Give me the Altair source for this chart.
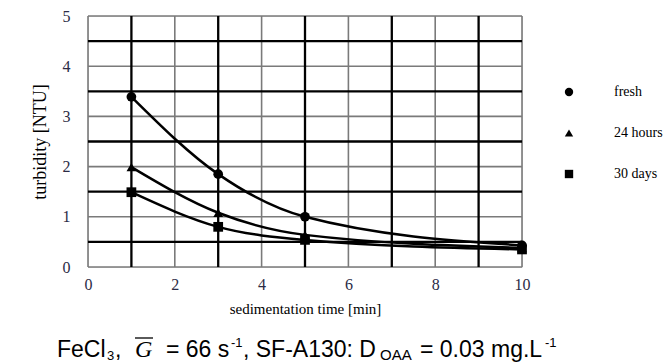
import altair as alt
import pandas as pd

# ---- data ----
time_min = [1, 3, 5, 10]
fresh = [3.39, 1.85, 1.0, 0.43]
hours_24 = [1.99, 1.08, 0.64, 0.38]
days_30 = [1.49, 0.80, 0.54, 0.35]
series_names = ["fresh", "24 hours", "30 days"]
series_shapes = ["circle", "triangle-up", "square"]
x_ticks = [0, 2, 4, 6, 8, 10]
y_ticks = [0, 1, 2, 3, 4, 5]
grid_x_light = [0, 2, 4, 6, 8, 10]
grid_x_dark = [1, 3, 5, 7, 9]
grid_y_light = [0, 1, 2, 3, 4, 5]
grid_y_dark = [0.5, 1.5, 2.5, 3.5, 4.5]

rows = []
for name, vals in zip(series_names, [fresh, hours_24, days_30]):
    for t, v in zip(time_min, vals):
        rows.append({"time": t, "turbidity": v, "series": name})
df = pd.DataFrame(rows)

W, H = 434, 251
xs = alt.Scale(domain=[0, 10], nice=False, zero=False)
ys = alt.Scale(domain=[0, 5], nice=False)
SERIF = "Liberation Serif"
SANS = "Liberation Sans"
LABEL_COLOR = "#2b2b45"

x_axis = alt.Axis(values=x_ticks, title="sedimentation time  [min]", grid=False,
                  domain=False, ticks=False, labelPadding=9, titlePadding=9,
                  labelFont=SERIF, labelFontSize=16, titleFont=SERIF,
                  titleFontSize=15, titleFontWeight="normal", labelColor=LABEL_COLOR,
                  titleColor="black", format="d", labelFlush=False)
y_axis = alt.Axis(values=y_ticks, title="turbidity  [NTU]", grid=False,
                  domain=False, ticks=False, labelPadding=18, titlePadding=13,
                  labelFont=SERIF, labelFontSize=16, titleFont=SERIF,
                  titleFontSize=18, titleFontWeight="normal", labelColor=LABEL_COLOR,
                  titleColor="black", format="d")


def vgrid(vals, color, width):
    return alt.Chart(pd.DataFrame({"time": vals})).mark_rule(
        color=color, strokeWidth=width).encode(x=alt.X("time:Q", scale=xs, axis=x_axis))


def hgrid(vals, color, width):
    return alt.Chart(pd.DataFrame({"turbidity": vals})).mark_rule(
        color=color, strokeWidth=width).encode(y=alt.Y("turbidity:Q", scale=ys, axis=y_axis))


grid = (vgrid(grid_x_light, "#7a7a7a", 1.6) + hgrid(grid_y_light, "#7a7a7a", 1.6)
        + vgrid(grid_x_dark, "black", 2.3) + hgrid(grid_y_dark, "black", 2.3))

base = alt.Chart(df)
lines = base.mark_line(color="black", strokeWidth=2.5, interpolate="monotone").encode(
    x=alt.X("time:Q", scale=xs, axis=x_axis),
    y=alt.Y("turbidity:Q", scale=ys, axis=y_axis),
    detail="series:N",
)
points = base.mark_point(filled=True, color="black", size=95, opacity=1).encode(
    x=alt.X("time:Q", scale=xs, axis=x_axis),
    y=alt.Y("turbidity:Q", scale=ys, axis=y_axis),
    shape=alt.Shape("series:N",
                    scale=alt.Scale(domain=series_names, range=series_shapes),
                    legend=alt.Legend(title=None, orient="none", legendX=474, legendY=69,
                                      symbolSize=70, symbolFillColor="black",
                                      symbolStrokeColor="black", symbolStrokeWidth=0,
                                      labelFont=SERIF, labelFontSize=14, labelColor="black",
                                      labelOffset=38, rowPadding=27, padding=0)),
)


def seg(text, x, y, size, font=SANS, style="normal"):
    return alt.Chart(pd.DataFrame({"t": [text]})).mark_text(
        align="left", baseline="alphabetic", font=font, fontSize=size,
        fontStyle=style, color="black").encode(
        x=alt.value(x), y=alt.value(y), text="t:N")


CB = 341
caption = (
    seg("FeCl", -31, CB, 23)
    + seg("3", 19, CB + 3, 13)
    + seg(",", 27, CB, 23)
    + seg("G", 47, CB, 24, font=SERIF, style="italic")
    + alt.Chart(pd.DataFrame({"t": [0]})).mark_rule(color="black", strokeWidth=1.3).encode(
        x=alt.value(47), x2=alt.value(65), y=alt.value(CB - 19))
    + seg("= 66 s", 78, CB, 23)
    + seg("-1", 143, CB - 10, 13)
    + seg(", SF-A130: D", 155, CB, 23)
    + seg("OAA", 292, CB + 3, 15)
    + seg("= 0.03 mg.L", 332, CB, 23)
    + seg("-1", 457, CB - 10, 13)
)

chart = alt.layer(grid, lines, points, caption).properties(
    width=W, height=H,
    autosize=alt.AutoSizeParams(type="none"),
    padding={"left": 80, "top": 8, "right": 141, "bottom": 95},
).configure_view(stroke=None).configure(background="white")

chart.save("out.html", embed_options={"renderer": "svg", "actions": False})
